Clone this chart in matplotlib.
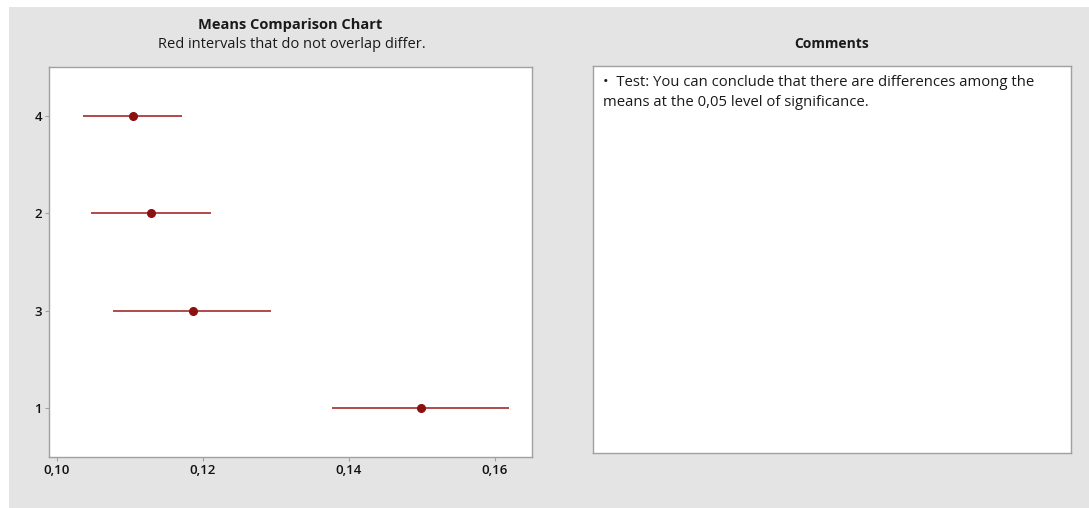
import matplotlib.pyplot as plt
from matplotlib.patches import Rectangle

plt.rcParams['font.family'] = ['Open Sans', 'DejaVu Sans']

# interval plot data, groups listed bottom to top
groups = ['1', '3', '2', '4']
means = [0.1499, 0.1186, 0.1129, 0.1104]
lower = [0.1377, 0.1077, 0.1047, 0.1036]
upper = [0.1619, 0.1293, 0.1211, 0.1171]
x_ticks = [0.10, 0.12, 0.14, 0.16]
x_tick_labels = ['0,10', '0,12', '0,14', '0,16']

comment = ("\u2022  Test: You can conclude that there are differences among the\n"
           "means at the 0,05 level of significance.")

W, H = 1089, 508
fig = plt.figure(figsize=(W / 100, H / 100), dpi=100)
fig.patch.set_facecolor('white')
# gray panel background
fig.add_artist(Rectangle((9 / W, 0), 1 - 9 / W, 1 - 7 / H, transform=fig.transFigure,
                         facecolor='#e4e4e4', edgecolor='none', zorder=-10))

ax = fig.add_axes([49 / W, 1 - 457 / H, (532 - 49) / W, (457 - 67) / H])
ypos = list(range(1, len(groups) + 1))
dark_red = '#8b1010'
ax.hlines(ypos, lower, upper, color='#a52a2a', linewidth=1.2)
ax.plot(means, ypos, 'o', color=dark_red, markersize=5.5, linestyle='none')

ax.set_xlim(0.0989, 0.1651)
ax.set_ylim(0.5, 4.5)
ax.set_xticks(x_ticks)
ax.set_xticklabels(x_tick_labels)
ax.set_yticks(ypos)
ax.set_yticklabels(groups)
ax.tick_params(length=3, width=0.8, color='#a0a0a0', labelsize=9.5, labelcolor='#111111', pad=2)
for lbl in ax.get_xticklabels() + ax.get_yticklabels():
    lbl.set_fontweight('semibold')
for sp in ax.spines.values():
    sp.set_color('#a0a0a0')
    sp.set_linewidth(1)

fig.text(290 / W, 1 - 25 / H, 'Means Comparison Chart', ha='center', va='center',
         fontsize=10.5, fontweight='bold', color='#1a1a1a')
fig.text(292 / W, 1 - 44 / H, 'Red intervals that do not overlap differ.', ha='center', va='center',
         fontsize=10.5, color='#1a1a1a')

# comments box
cax = fig.add_axes([593 / W, 1 - 453 / H, (1071 - 593) / W, (453 - 66) / H])
cax.set_xticks([])
cax.set_yticks([])
for sp in cax.spines.values():
    sp.set_color('#a0a0a0')
    sp.set_linewidth(1)
fig.text(832 / W, 1 - 44 / H, 'Comments', ha='center', va='center',
         fontsize=10, fontweight='bold', color='#1a1a1a')
fig.text(603 / W, 1 - 75 / H, comment, ha='left', va='top', fontsize=10.7,
         color='#1a1a1a', linespacing=1.42)

fig.savefig('out.png', dpi=100)
